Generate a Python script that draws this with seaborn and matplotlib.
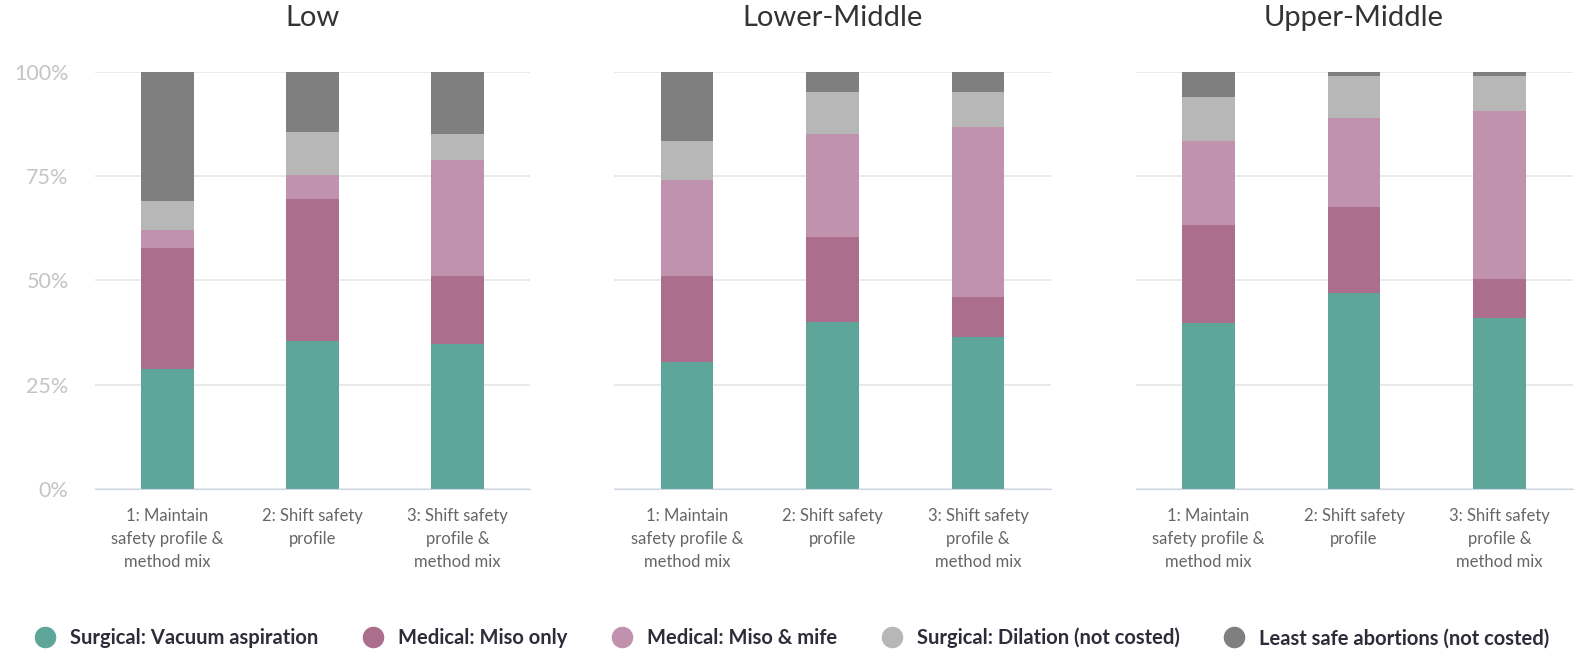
import matplotlib
matplotlib.use("Agg")
import matplotlib.pyplot as plt
import seaborn as sns
import numpy as np
from matplotlib.lines import Line2D

sns.set_style("white")
plt.rcParams['font.family'] = ['Lato', 'DejaVu Sans']

scenarios = ["1: Maintain\nsafety profile &\nmethod mix",
             "2: Shift safety\nprofile",
             "3: Shift safety\nprofile &\nmethod mix"]
groups = ["Low", "Lower-Middle", "Upper-Middle"]
methods = ["Surgical: Vacuum aspiration", "Medical: Miso only", "Medical: Miso & mife",
           "Surgical: Dilation (not costed)", "Least safe abortions (not costed)"]
colors = ["#5fa69a", "#ac6e8d", "#c192ad", "#b7b7b7", "#7f7f7f"]

# shares in % per income group, one list per method (scenario 1, 2, 3)
low_vac = [28.7, 35.4, 34.7]
low_miso = [29.1, 34.1, 16.4]
low_mife = [4.2, 5.9, 27.7]
low_dil = [7.1, 10.1, 6.3]
low_least = [30.9, 14.5, 14.9]

lm_vac = [30.5, 40.1, 36.3]
lm_miso = [20.6, 20.2, 9.7]
lm_mife = [23.1, 24.8, 40.8]
lm_dil = [9.2, 10.1, 8.4]
lm_least = [16.6, 4.8, 4.8]

um_vac = [39.7, 46.9, 41.0]
um_miso = [23.6, 20.6, 9.3]
um_mife = [20.1, 21.4, 40.3]
um_dil = [10.5, 10.1, 8.4]
um_least = [6.1, 1.0, 1.0]

data = {
    "Low": [low_vac, low_miso, low_mife, low_dil, low_least],
    "Lower-Middle": [lm_vac, lm_miso, lm_mife, lm_dil, lm_least],
    "Upper-Middle": [um_vac, um_miso, um_mife, um_dil, um_least],
}

fig = plt.figure(figsize=(15.88, 6.57), dpi=100)
lefts = [95 / 1588, 614 / 1588, 1135.5 / 1588]
widths = [435 / 1588, 437 / 1588, 437 / 1588]
bottom = 168.3 / 657
height = 416.7 / 657

for i, g in enumerate(groups):
    ax = fig.add_axes([lefts[i], bottom, widths[i], height])
    cum = np.cumsum(np.array(data[g]), axis=0)
    # draw cumulative totals from the top layer down so they stack
    for k in range(len(methods) - 1, -1, -1):
        sns.barplot(x=scenarios, y=cum[k], color=colors[k], width=0.36,
                    saturation=1, linewidth=0, errorbar=None, ax=ax, zorder=3)
    ax.set_ylim(0, 100)
    ax.set_xlim(-0.5, 2.5)
    ax.set_yticks([0, 25, 50, 75, 100])
    ax.yaxis.grid(True, color="#e6e6e6", linewidth=1.2, zorder=0)
    ax.set_axisbelow(True)
    if i == 0:
        ax.set_yticklabels(["0%", "25%", "50%", "75%", "100%"], color="#c4c4c4", fontsize=15.5)
    else:
        ax.set_yticklabels([])
    ax.tick_params(axis="both", length=0)
    ax.tick_params(axis="y", pad=19)
    ax.tick_params(axis="x", pad=14, labelsize=12, labelcolor="#666666")
    for lab in ax.get_xticklabels():
        lab.set_linespacing(1.55)
    for s in ["top", "right", "left"]:
        ax.spines[s].set_visible(False)
    ax.spines["bottom"].set_color("#ccd6eb")
    ax.spines["bottom"].set_zorder(4)
    ax.set_xlabel("")
    ax.set_ylabel("")
    ax.set_title(g, fontsize=21, color="#333333", pad=33)

handles = [Line2D([0], [0], marker="o", linestyle="", markersize=14.5,
                  markerfacecolor=c, markeredgecolor=c) for c in colors]
leg = fig.legend(handles, methods, loc="center", ncol=5, frameon=False,
                 bbox_to_anchor=(0.499, 0.029), prop={"weight": "bold", "size": 14.5},
                 columnspacing=2.2, handlelength=1.0, handletextpad=0.75)
for t in leg.get_texts():
    t.set_color("#2d2d3a")

fig.savefig("out.png", dpi=100)
